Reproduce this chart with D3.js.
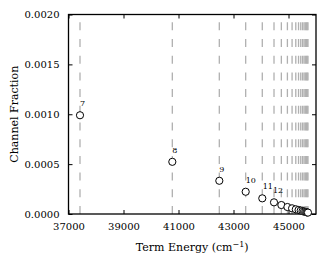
<!DOCTYPE html>
<html>
<head>
<meta charset="utf-8">
<script src="https://cdn.jsdelivr.net/npm/d3@7"></script>
<style>
  body { margin: 0; background: #fff; }
  text { font-family: "DejaVu Serif", serif; fill: #000; }
</style>
</head>
<body>
<script>
// Rydberg levels: principal number, term energy (cm^-1), channel fraction
const levels = [7, 8, 9, 10, 11, 12, 13, 14, 15, 16, 17, 18, 19, 20, 21, 22, 23, 24];
const energies = [37418, 40775, 42484, 43443, 44047, 44473, 44740, 44960, 45130,
                  45265, 45365, 45445, 45510, 45565, 45610, 45648, 45680, 45708];
const fractions = [0.00099, 0.000523, 0.000333, 0.000223, 0.000157, 0.000117, 0.00009,
                   0.00007, 0.000057, 0.000047, 0.00004, 0.000034, 0.000029, 0.000025,
                   0.000021, 0.000018, 0.000016, 0.000014];
const labelled = [7, 8, 9, 10, 11, 12];
const xTicks = [37000, 39000, 41000, 43000, 45000];
const yTicks = [0, 0.0005, 0.001, 0.0015, 0.002];

const W = 327, H = 266;
const m = { left: 68.5, right: 11, top: 14.5, bottom: 52 };

const svg = d3.select("body").append("svg")
    .attr("width", W)
    .attr("height", H);

const x = d3.scaleLinear().domain([37000, 46000]).range([m.left, W - m.right]);
const y = d3.scaleLinear().domain([0, 0.002]).range([H - m.bottom, m.top]);

const data = levels.map((n, i) => ({ n: n, e: energies[i], f: fractions[i] }));

// dashed level markers
svg.append("g").selectAll("line")
    .data(data)
    .enter().append("line")
    .attr("x1", d => x(d.e))
    .attr("x2", d => x(d.e))
    .attr("y1", y(0))
    .attr("y2", y(0.002))
    .attr("stroke", "#b0b0b0")
    .attr("stroke-width", 1.3)
    .attr("stroke-dasharray", "8,8.7");

// axes (ticks pointing inwards on all four sides)
const fmtY = d3.format(".4f");
svg.append("g")
    .attr("transform", `translate(0,${y(0)})`)
    .call(d3.axisBottom(x).tickValues(xTicks).tickSize(-4).tickPadding(9).tickFormat(d3.format("d")))
    .call(g => g.select(".domain").remove());
svg.append("g")
    .attr("transform", `translate(0,${y(0.002)})`)
    .call(d3.axisTop(x).tickValues(xTicks).tickSize(-4).tickFormat(""))
    .call(g => g.select(".domain").remove());
svg.append("g")
    .attr("transform", `translate(${x(37000)},0)`)
    .call(d3.axisLeft(y).tickValues(yTicks).tickSize(-4).tickPadding(9).tickFormat(fmtY))
    .call(g => g.select(".domain").remove());
svg.append("g")
    .attr("transform", `translate(${x(46000)},0)`)
    .call(d3.axisRight(y).tickValues(yTicks).tickSize(-4).tickFormat(""))
    .call(g => g.select(".domain").remove());

svg.selectAll(".tick text")
    .style("font-family", "DejaVu Serif")
    .style("font-size", "10px");
svg.selectAll(".tick line").attr("stroke", "#000");

// frame
svg.append("rect")
    .attr("x", x(37000))
    .attr("y", y(0.002))
    .attr("width", x(46000) - x(37000))
    .attr("height", y(0) - y(0.002))
    .attr("fill", "none")
    .attr("stroke", "#000")
    .attr("stroke-width", 1.3);

// points
svg.append("g").selectAll("circle")
    .data(data)
    .enter().append("circle")
    .attr("cx", d => x(d.e))
    .attr("cy", d => y(d.f))
    .attr("r", 3.6)
    .attr("fill", "#fff")
    .attr("stroke", "#000")
    .attr("stroke-width", 1);

// level labels
svg.append("g").selectAll("text")
    .data(data.filter(d => labelled.includes(d.n)))
    .enter().append("text")
    .attr("x", d => x(d.e) + (d.n === 12 ? -1 : d.n === 11 ? 0.5 : 0))
    .attr("y", d => y(d.f) - 9)
    .style("font-size", "8px")
    .text(d => d.n);

// axis titles
const xt = svg.append("text")
    .attr("x", (x(37000) + x(46000)) / 2)
    .attr("y", 251)
    .attr("text-anchor", "middle")
    .style("font-size", "11px");
xt.append("tspan").text("Term Energy (cm");
xt.append("tspan").attr("dy", -4).style("font-size", "8px").text("\u22121");
xt.append("tspan").attr("dy", 4).text(")");

svg.append("text")
    .attr("transform", `translate(18,${(y(0) + y(0.002)) / 2}) rotate(-90)`)
    .attr("text-anchor", "middle")
    .style("font-size", "11px")
    .text("Channel Fraction");
</script>
</body>
</html>
